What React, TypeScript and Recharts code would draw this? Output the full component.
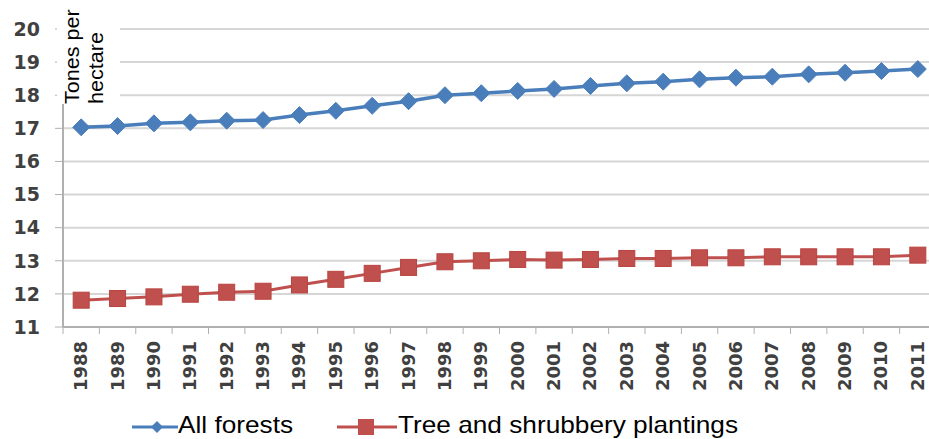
import { LineChart, Line, XAxis, YAxis, CartesianGrid, Legend } from "recharts";

const YEARS = [
  "1988", "1989", "1990", "1991", "1992", "1993", "1994", "1995",
  "1996", "1997", "1998", "1999", "2000", "2001", "2002", "2003",
  "2004", "2005", "2006", "2007", "2008", "2009", "2010", "2011",
];

const ALL_FORESTS = [
  17.03, 17.07, 17.15, 17.18, 17.23, 17.25, 17.4, 17.53,
  17.68, 17.82, 18.0, 18.06, 18.13, 18.19, 18.28, 18.36,
  18.41, 18.48, 18.53, 18.56, 18.63, 18.68, 18.73, 18.79,
];

const PLANTINGS = [
  11.81, 11.86, 11.91, 11.99, 12.05, 12.08, 12.27, 12.44,
  12.62, 12.8, 12.97, 13.0, 13.04, 13.02, 13.04, 13.07,
  13.07, 13.09, 13.09, 13.12, 13.12, 13.12, 13.12, 13.17,
];

const Y_TICKS = [11, 12, 13, 14, 15, 16, 17, 18, 19, 20];

const SERIES_NAMES = ["All forests", "Tree and shrubbery plantings"];
const UNIT_LINES = ["Tones per", "hectare"];

const BLUE = "#4a7ebb";
const RED = "#c0504d";
const AXIS_GRAY = "#b0b0b0";
const TICK_FONT = "'DejaVu Sans', sans-serif";
const TEXT_FONT = "'Liberation Sans', Arial, sans-serif";

const data = YEARS.map((year, i) => ({
  year,
  forests: ALL_FORESTS[i],
  plantings: PLANTINGS[i],
}));

const CHART_W = 940;
const CHART_H = 439;
const MARGIN = { top: 29, right: 4, left: 0, bottom: 0 };
const Y_AXIS_W = 63;
// excel-style category axis: points sit in the middle of each band
const HALF_BAND = (CHART_W - MARGIN.right - MARGIN.left - Y_AXIS_W) / YEARS.length / 2;

const Diamond = (props: any) => {
  const { cx, cy } = props;
  if (cx == null || cy == null) return null;
  const r = 8.5;
  return (
    <path
      d={`M${cx},${cy - r}L${cx + r},${cy}L${cx},${cy + r}L${cx - r},${cy}Z`}
      fill={BLUE}
      stroke={BLUE}
    />
  );
};

const Square = (props: any) => {
  const { cx, cy } = props;
  if (cx == null || cy == null) return null;
  const s = 8;
  return <rect x={cx - s} y={cy - s} width={s * 2} height={s * 2} fill={RED} stroke="#b84440" />;
};

const YearTick = (props: any) => {
  const { x, y, payload, index } = props;
  const last = index === YEARS.length - 1;
  return (
    <g>
      <line x1={x - HALF_BAND} y1={y} x2={x - HALF_BAND} y2={y + 7} stroke={AXIS_GRAY} />
      {last && <line x1={x + HALF_BAND} y1={y} x2={x + HALF_BAND} y2={y + 7} stroke={AXIS_GRAY} />}
      <text
        x={0}
        y={0}
        transform={`translate(${x + 6},${y + 14}) rotate(-90)`}
        textAnchor="end"
        fontFamily={TICK_FONT}
        fontWeight="bold"
        fontSize={18}
        fill="#404040"
      >
        {payload.value}
      </text>
    </g>
  );
};

// white box with the rotated unit text, laid over the top-left of the plot
const UnitLabel = () => (
  <svg
    width={63}
    height={104}
    style={{ position: "absolute", left: 57, top: 0, background: "#fff", display: "block" }}
  >
    <text transform="translate(22,104) rotate(-90) scale(1.08,1)" fontFamily={TEXT_FONT} fontSize={20} fill="#000">
      {UNIT_LINES[0]}
    </text>
    <text transform="translate(46,104) rotate(-90) scale(1.08,1)" fontFamily={TEXT_FONT} fontSize={20} fill="#000">
      {UNIT_LINES[1]}
    </text>
  </svg>
);

const LegendBox = () => (
  <svg width={929} height={44} style={{ display: "block" }}>
    <line x1={132} y1={32} x2={178} y2={32} stroke={BLUE} strokeWidth={3} />
    <path d="M157,26L163,32L157,38L151,32Z" fill={BLUE} />
    <text transform="translate(178,38) scale(1.14,1)" fontFamily={TEXT_FONT} fontSize={23} fill="#000">
      {SERIES_NAMES[0]}
    </text>
    <line x1={337} y1={32} x2={397} y2={32} stroke={RED} strokeWidth={3} />
    <rect x={358} y={24} width={16} height={16} fill={RED} />
    <text transform="translate(398,38) scale(1.14,1)" fontFamily={TEXT_FONT} fontSize={23} fill="#000">
      {SERIES_NAMES[1]}
    </text>
  </svg>
);

export default function App() {
  return (
    <div
      style={{
        position: "absolute",
        left: 0,
        top: 0,
        width: 929,
        height: 439,
        overflow: "hidden",
        background: "#fff",
      }}
    >
      <LineChart width={CHART_W} height={CHART_H} data={data} margin={MARGIN}>
        <CartesianGrid vertical={false} stroke="#d6d6d6" strokeWidth={2} />
        <XAxis
          dataKey="year"
          height={68}
          interval={0}
          padding={{ left: HALF_BAND, right: HALF_BAND }}
          tickLine={false}
          tickSize={0}
          tickMargin={0}
          axisLine={{ stroke: AXIS_GRAY, strokeWidth: 2 }}
          tick={<YearTick />}
        />
        <YAxis
          width={Y_AXIS_W}
          domain={[11, 20]}
          ticks={Y_TICKS}
          interval={0}
          tickSize={8}
          tickMargin={15}
          tickLine={{ stroke: AXIS_GRAY }}
          axisLine={{ stroke: AXIS_GRAY, strokeWidth: 2 }}
          tick={{ fontFamily: TICK_FONT, fontWeight: "bold", fontSize: 19, fill: "#404040" }}
        />
        <Legend
          verticalAlign="bottom"
          height={44}
          wrapperStyle={{ left: 0, width: 929 }}
          content={() => <LegendBox />}
        />
        <Line
          dataKey="forests"
          name={SERIES_NAMES[0]}
          stroke={BLUE}
          strokeWidth={3.5}
          dot={<Diamond />}
          isAnimationActive={false}
        />
        <Line
          dataKey="plantings"
          name={SERIES_NAMES[1]}
          stroke={RED}
          strokeWidth={3}
          dot={<Square />}
          isAnimationActive={false}
        />
      </LineChart>
      <UnitLabel />
    </div>
  );
}
